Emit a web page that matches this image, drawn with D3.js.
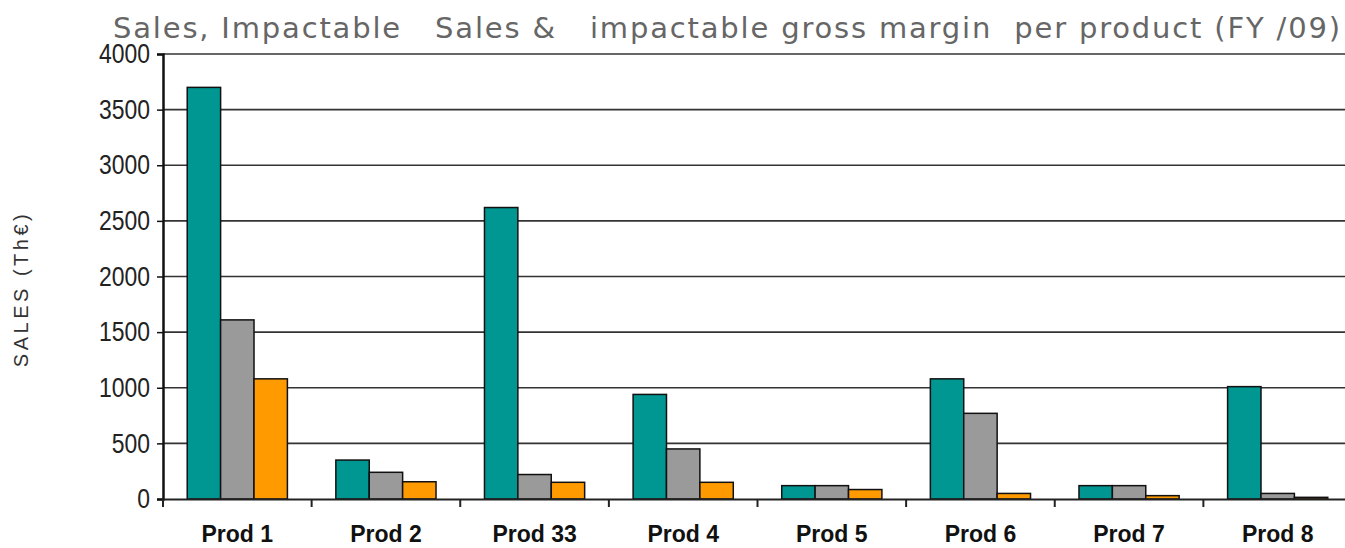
<!DOCTYPE html>
<meta charset="utf-8">
<style>
body { margin: 0; background: #fff; }
.grid line { stroke: #333; stroke-width: 1.6px; }
</style>
<script src="https://d3js.org/d3.v7.min.js"></script>
<body>
<div id="chart"></div>
<script>
// products and the three series (Th€)
var products = ["Prod 1", "Prod 2", "Prod 33", "Prod 4", "Prod 5", "Prod 6", "Prod 7", "Prod 8"];
var sales = [3700, 350, 2620, 940, 120, 1080, 120, 1010];
var impactableSales = [1610, 240, 220, 450, 120, 770, 120, 50];
var impactableMargin = [1080, 155, 150, 150, 85, 50, 30, 15];
var yTicks = [0, 500, 1000, 1500, 2000, 2500, 3000, 3500, 4000];

var seriesNames = ["sales", "impSales", "impMargin"];
var seriesColors = ["#009692", "#9a9a9a", "#ff9a00"];
var seriesData = [sales, impactableSales, impactableMargin];

var W = 1345, H = 548;
var mLeft = 163, mRight = 1352, mTop = 54, mBottom = 499;

var svg = d3.select("#chart").append("svg")
    .attr("width", W)
    .attr("height", H);

var x0 = d3.scaleBand().domain(products).range([mLeft, mRight]);
var bw = x0.bandwidth();
var x1 = d3.scaleBand().domain(seriesNames).range([bw * 0.163, bw * 0.837]);
var y = d3.scaleLinear().domain([0, 4000]).range([mBottom, mTop]);

// gridlines
svg.append("g").attr("class", "grid")
  .selectAll("line")
  .data(yTicks.filter(function(d) { return d > 0; }))
  .enter().append("line")
    .attr("x1", mLeft).attr("x2", W)
    .attr("y1", function(d) { return y(d); })
    .attr("y2", function(d) { return y(d); });

// bars
var groups = svg.append("g").selectAll("g")
  .data(products)
  .enter().append("g")
    .attr("transform", function(d) { return "translate(" + x0(d) + ",0)"; });

groups.selectAll("rect")
  .data(function(d, i) {
    return seriesNames.map(function(s, k) { return { key: s, value: seriesData[k][i], color: seriesColors[k] }; });
  })
  .enter().append("rect")
    .attr("x", function(d) { return x1(d.key); })
    .attr("width", x1.bandwidth())
    .attr("y", function(d) { return y(d.value); })
    .attr("height", function(d) { return mBottom - y(d.value); })
    .attr("fill", function(d) { return d.color; })
    .attr("stroke", "#111")
    .attr("stroke-width", 1.5);

// y axis
var yAxis = svg.append("g")
    .attr("transform", "translate(" + mLeft + ",0)")
    .call(d3.axisLeft(y).tickValues(yTicks).tickSize(6).tickPadding(5).tickFormat(d3.format("d")));
yAxis.select(".domain").attr("stroke", "#111").attr("stroke-width", 2.5);
yAxis.selectAll(".tick line").attr("stroke", "#111").attr("stroke-width", 1.5);
// narrow, tall digits like the original
yAxis.selectAll(".tick text")
    .attr("font-family", "'Liberation Sans', Arial, sans-serif")
    .attr("font-size", 27)
    .attr("fill", "#222")
    .attr("x", -13 / 0.85)
    .attr("transform", "scale(0.85,1)");

// x axis
var xAxis = svg.append("g")
    .attr("transform", "translate(0," + mBottom + ")")
    .call(d3.axisBottom(x0).tickSize(0).tickPadding(27));
xAxis.select(".domain").attr("stroke", "#222").attr("stroke-width", 2);
xAxis.selectAll("text")
    .attr("font-family", "'Liberation Sans', Arial, sans-serif")
    .attr("font-weight", "bold")
    .attr("font-size", 23)
    .attr("fill", "#111");
// category separator ticks
xAxis.append("g").selectAll("line")
  .data(products)
  .enter().append("line")
    .attr("x1", function(d) { return x0(d); })
    .attr("x2", function(d) { return x0(d); })
    .attr("y1", 0).attr("y2", 8)
    .attr("stroke", "#222").attr("stroke-width", 2);

// title
svg.append("text")
    .attr("x", 113).attr("y", 38)
    .attr("textLength", 1227)
    .attr("lengthAdjust", "spacing")
    .style("white-space", "pre")
    .attr("font-family", "'DejaVu Sans', sans-serif")
    .attr("font-size", 29)
    .attr("fill", "#666")
    .text("Sales, Impactable   Sales &   impactable gross margin  per product (FY /09)");

// y label
svg.append("text")
    .attr("transform", "translate(28,289) rotate(-90)")
    .attr("text-anchor", "middle")
    .attr("font-family", "'Liberation Sans', Arial, sans-serif")
    .attr("font-size", 20)
    .attr("letter-spacing", 3.5)
    .attr("fill", "#333")
    .text("SALES (Th€)");
</script>
</body>
